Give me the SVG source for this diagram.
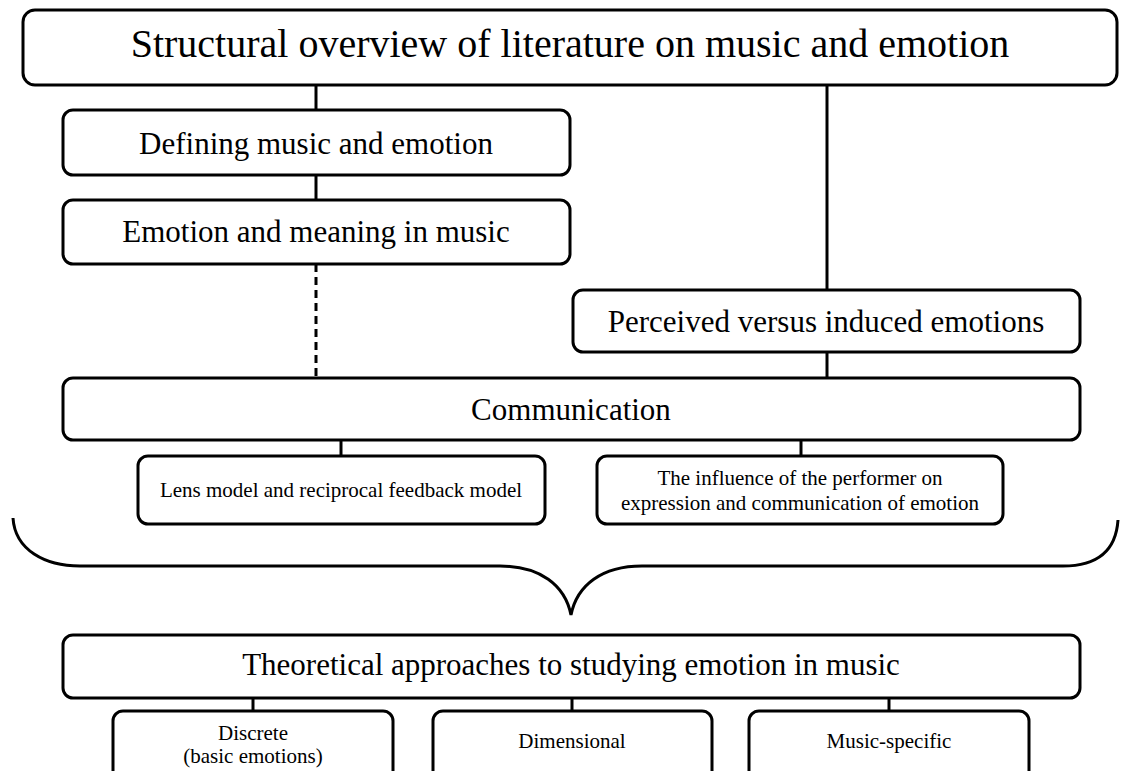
<svg xmlns="http://www.w3.org/2000/svg" width="1121" height="771" viewBox="0 0 1121 771">
<style>
.box{fill:#fff;stroke:#000;stroke-width:3}
.ln{fill:none;stroke:#000;stroke-width:3}
.dash{stroke-dasharray:8 5}
text{font-family:"Liberation Serif","Times New Roman",serif;fill:#000;text-anchor:middle}
.t40{font-size:40px}
.t31{font-size:31px}
.t21{font-size:21px}
</style>
<rect width="1121" height="771" fill="#fff"/>
<g id="connectors">
<line class="ln" x1="316" y1="85" x2="316" y2="110"/>
<line class="ln" x1="316" y1="175" x2="316" y2="200"/>
<line class="ln dash" x1="316" y1="264" x2="316" y2="378"/>
<line class="ln" x1="827" y1="85" x2="827" y2="290"/>
<line class="ln" x1="827" y1="352" x2="827" y2="378"/>
<line class="ln" x1="341" y1="440" x2="341" y2="456"/>
<line class="ln" x1="801" y1="440" x2="801" y2="456"/>
<path class="ln" d="M13 518 C15 550 45 566 80 566 L500 566 C540 566 565 585 571 615 C577 585 602 566 642 566 L1063 566 C1098 566 1116 550 1118 520"/>
<line class="ln" x1="253" y1="698" x2="253" y2="711"/>
<line class="ln" x1="572" y1="698" x2="572" y2="711"/>
<line class="ln" x1="889" y1="698" x2="889" y2="711"/>
</g>
<g id="n-title">
<rect class="box" x="23" y="10" width="1094" height="75" rx="12"/>
<text class="t40" x="570" y="57">Structural overview of literature on music and emotion</text>
</g>
<g id="n-defining">
<rect class="box" x="63" y="110" width="507" height="65" rx="10"/>
<text class="t31" x="316" y="154">Defining music and emotion</text>
</g>
<g id="n-meaning">
<rect class="box" x="63" y="200" width="507" height="64" rx="10"/>
<text class="t31" x="316" y="242">Emotion and meaning in music</text>
</g>
<g id="n-perceived">
<rect class="box" x="573" y="290" width="507" height="62" rx="10"/>
<text class="t31" x="826" y="332">Perceived versus induced emotions</text>
</g>
<g id="n-communication">
<rect class="box" x="63" y="378" width="1017" height="62" rx="10"/>
<text class="t31" x="571" y="420">Communication</text>
</g>
<g id="n-lens">
<rect class="box" x="138" y="456" width="407" height="68" rx="10"/>
<text class="t21" x="341" y="497">Lens model and reciprocal feedback model</text>
</g>
<g id="n-influence">
<rect class="box" x="597" y="456" width="406" height="68" rx="10"/>
<text class="t21" x="800" y="485">The influence of the performer on</text>
<text class="t21" x="800" y="510">expression and communication of emotion</text>
</g>
<g id="n-theoretical">
<rect class="box" x="63" y="635" width="1017" height="63" rx="10"/>
<text class="t31" x="571" y="675">Theoretical approaches to studying emotion in music</text>
</g>
<g id="n-discrete">
<rect class="box" x="113" y="711" width="280" height="80" rx="10"/>
<text class="t21" x="253" y="740">Discrete</text>
<text class="t21" x="253" y="763">(basic emotions)</text>
</g>
<g id="n-dimensional">
<rect class="box" x="433" y="711" width="279" height="80" rx="10"/>
<text class="t21" x="572" y="748">Dimensional</text>
</g>
<g id="n-music">
<rect class="box" x="749" y="711" width="280" height="80" rx="10"/>
<text class="t21" x="889" y="748">Music-specific</text>
</g>
</svg>
